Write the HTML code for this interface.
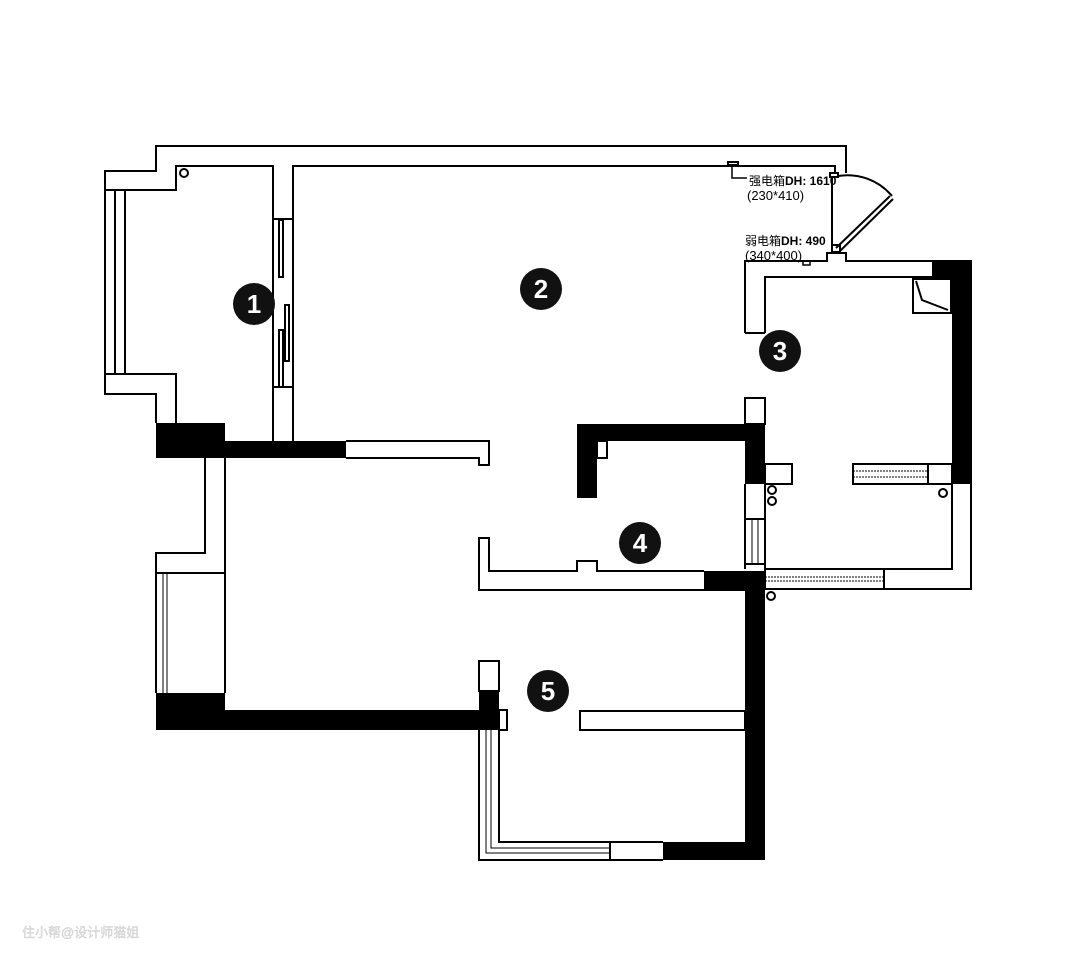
<!DOCTYPE html>
<html><head><meta charset="utf-8"><style>
html,body{margin:0;padding:0;background:#fff;}
svg{display:block;}
text{font-family:"Liberation Sans","Noto Sans CJK SC",sans-serif;}
</style></head><body>
<svg width="1080" height="962" viewBox="0 0 1080 962" xmlns="http://www.w3.org/2000/svg">
<rect width="1080" height="962" fill="#fff"/>
<g fill="none" stroke="#000" stroke-width="2">
<polyline points="156,423 156,394 105,394 105,171 156,171 156,146 846,146 846,173"/>
<polyline points="176,423 176,374 105,374"/>
<polyline points="105,190 176,190 176,166 273,166 273,441"/>
<polyline points="293,441 293,166 835,166 835,173"/>
<line x1="115" y1="190" x2="115" y2="374"/><line x1="125" y1="190" x2="125" y2="374"/>
<line x1="273" y1="219" x2="293" y2="219"/><line x1="273" y1="387" x2="293" y2="387"/>
<rect x="279" y="220" width="4" height="57"/><rect x="285" y="305" width="4" height="56"/><rect x="279" y="330" width="4" height="57"/>
<circle cx="184" cy="173" r="4"/>
<rect x="830" y="173" width="8" height="4"/>
<line x1="832" y1="177" x2="832" y2="246"/>
<rect x="832" y="245" width="8" height="7"/>
<path d="M838,176 A58,58 0 0 1 892,196"/>
<line x1="836" y1="248" x2="890" y2="196"/><line x1="840" y1="251" x2="893" y2="199"/>
<polyline points="745,333 745,261 827,261 827,253 846,253 846,261 971,261 971,589 765,589"/>
<polyline points="765,333 745,333"/>
<polyline points="765,333 765,277 932,277"/>
<polyline points="765,569 952,569 952,484"/>
<line x1="884" y1="569" x2="884" y2="589"/>
<line x1="765" y1="577" x2="884" y2="577" stroke-width="1" stroke-dasharray="2,1"/>
<line x1="765" y1="581" x2="884" y2="581" stroke-width="1" stroke-dasharray="2,1"/>
<rect x="913" y="279" width="38" height="34"/>
<polyline points="916,281 922,300 948,310" />
<rect x="728" y="162" width="10" height="3"/>
<polyline points="732,165 732,178 747,178" stroke-width="1.5"/>
<rect x="803" y="261" width="7" height="4" stroke-width="1.5"/>
<rect x="745" y="398" width="20" height="26"/>
<rect x="765" y="464" width="27" height="20"/>
<rect x="597" y="441" width="10" height="17"/>
<line x1="745" y1="484" x2="745" y2="569"/><line x1="765" y1="484" x2="765" y2="589"/>
<rect x="745" y="519" width="20" height="45"/>
<line x1="752" y1="519" x2="752" y2="564" stroke-width="1"/><line x1="758" y1="519" x2="758" y2="564" stroke-width="1"/>
<rect x="853" y="464" width="99" height="20"/><line x1="928" y1="464" x2="928" y2="484"/>
<line x1="853" y1="471" x2="928" y2="471" stroke-width="1" stroke-dasharray="2,1"/>
<line x1="853" y1="477" x2="928" y2="477" stroke-width="1" stroke-dasharray="2,1"/>
<circle cx="772" cy="490" r="4"/><circle cx="772" cy="501" r="4"/><circle cx="943" cy="493" r="4"/><circle cx="771" cy="596" r="4"/>
<polyline points="704,571 597,571 597,561 577,561 577,571 489,571 489,538 479,538 479,590 704,590"/>
<polyline points="346,441 489,441 489,465 479,465 479,458 346,458"/>
<polyline points="205,458 205,553 156,553 156,693"/>
<polyline points="225,458 225,693"/>
<line x1="156" y1="573" x2="225" y2="573"/>
<line x1="163" y1="573" x2="163" y2="693" stroke-width="1"/><line x1="167" y1="573" x2="167" y2="693" stroke-width="1"/>
<rect x="479" y="661" width="20" height="30"/>
<rect x="499" y="710" width="8" height="20"/>
<rect x="580" y="711" width="165" height="19"/>
<polyline points="479,730 479,860 663,860"/>
<polyline points="499,730 499,842 663,842"/>
<line x1="610" y1="842" x2="610" y2="860"/>
<polyline points="486,730 486,853 610,853" stroke-width="1"/>
<polyline points="491,730 491,848 610,848" stroke-width="1"/>
</g>
<g fill="#000">
<rect x="932" y="260" width="40" height="18"/>
<rect x="952" y="277" width="20" height="207"/>
<rect x="577" y="424" width="188" height="17"/>
<rect x="577" y="441" width="20" height="57"/>
<rect x="745" y="441" width="20" height="43"/>
<rect x="704" y="571" width="61" height="20"/>
<rect x="745" y="589" width="20" height="271"/>
<rect x="663" y="842" width="102" height="18"/>
<rect x="156" y="423" width="69" height="18"/>
<rect x="156" y="441" width="190" height="17"/>
<rect x="156" y="693" width="69" height="18"/>
<rect x="156" y="710" width="343" height="20"/>
<rect x="479" y="691" width="20" height="39"/>
</g>
<g fill="#111">
<circle cx="254" cy="304" r="21"/><circle cx="541" cy="289" r="21"/><circle cx="780" cy="351" r="21"/><circle cx="640" cy="543" r="21"/><circle cx="548" cy="691" r="21"/>
</g>
<g fill="#fff" font-weight="bold" font-size="26" text-anchor="middle">
<text x="254" y="313">1</text><text x="541" y="298">2</text><text x="780" y="360">3</text><text x="640" y="552">4</text><text x="548" y="700">5</text>
</g>
<g fill="#000" font-size="12">
<text x="749" y="185">强电箱<tspan font-weight="bold">DH: 1610</tspan></text>
<text x="747" y="200" font-size="13">(230*410)</text>
<text x="745" y="245">弱电箱<tspan font-weight="bold">DH: 490</tspan></text>
<text x="745" y="260" font-size="13">(340*400)</text>
</g>
<text x="22" y="937" font-size="13" fill="#e4e4e4" stroke="#ccc" stroke-width="0.4">住小帮@设计师猫姐</text>
</svg>
</body></html>
